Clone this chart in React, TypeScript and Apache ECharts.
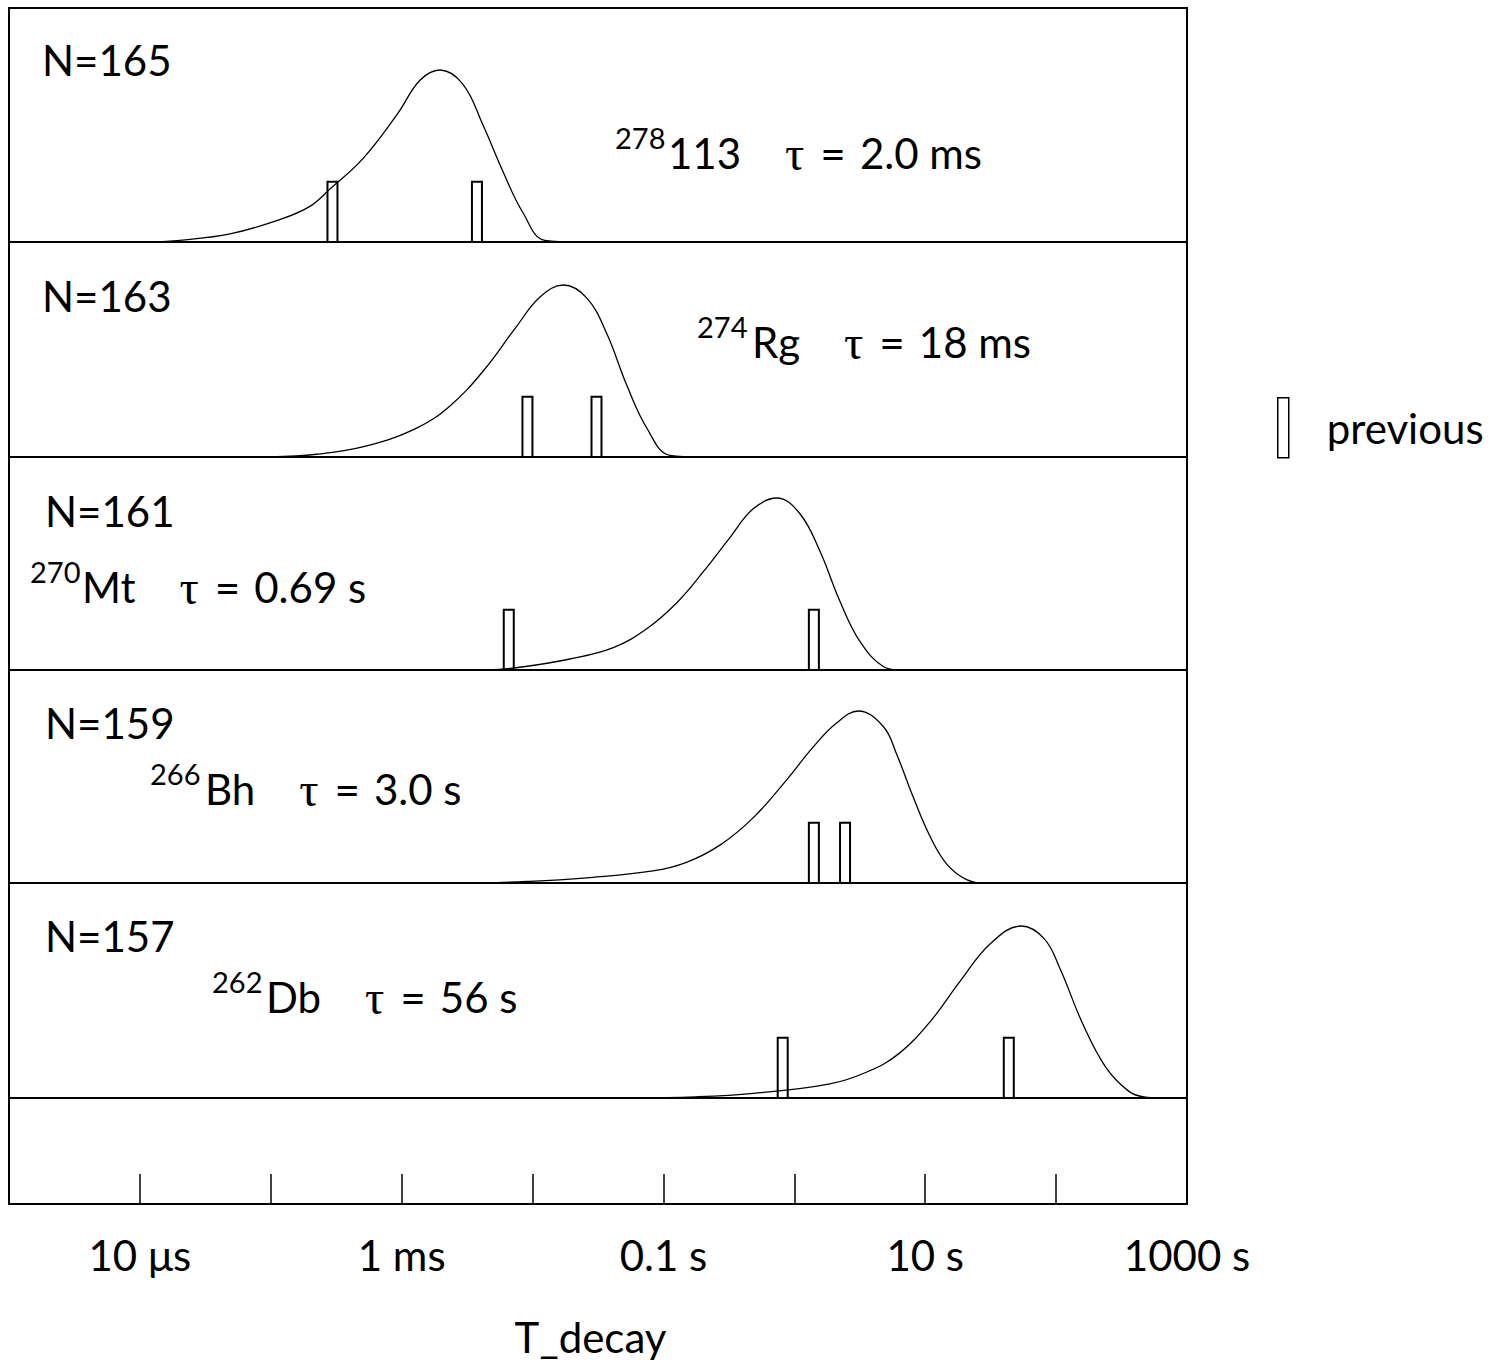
import React, { useEffect, useRef } from "react";
import * as echarts from "echarts";

// ---------- data (x: decay time in seconds, log scale; y: relative density, peak = 1) ----------
const T_MIN = 1e-6;
const T_MAX = 1e3;

const PANEL_N = ["N=165", "N=163", "N=161", "N=159", "N=157"];
const NUCLIDE_MASS = ["278", "274", "270", "266", "262"];
const NUCLIDE_NAME = ["113", "Rg", "Mt", "Bh", "Db"];
const TAU_TEXT = ["2.0 ms", "18 ms", "0.69 s", "3.0 s", "56 s"];

const T_113 = [1.19e-5, 2.02e-5, 4.88e-5, 1.17e-4, 1.99e-4, 2.83e-4, 5.06e-4, 9.2e-4, 1.38e-3, 1.96e-3, 2.94e-3, 4.18e-3, 5.94e-3, 8.45e-3, 1.24e-2, 2.3e-2];
const P_113 = [0, 0.01, 0.047, 0.13, 0.207, 0.308, 0.485, 0.74, 0.94, 1.0, 0.917, 0.68, 0.41, 0.17, 0.01, 0];

const T_RG = [9.86e-5, 2.24e-4, 5.41e-4, 1.3e-3, 2.34e-3, 4.2e-3, 7.56e-3, 1.14e-2, 1.72e-2, 2.59e-2, 3.68e-2, 5.23e-2, 7.44e-2, 0.112, 0.2];
const P_RG = [0, 0.016, 0.065, 0.168, 0.297, 0.5, 0.76, 0.93, 1.0, 0.925, 0.72, 0.42, 0.17, 0.01, 0];

const T_MT = [4.46e-3, 8.02e-3, 1.93e-2, 4.14e-2, 7.45e-2, 0.126, 0.201, 0.322, 0.485, 0.732, 1.1, 1.57, 2.23, 3.17, 4.78, 6.41];
const P_MT = [0, 0.016, 0.064, 0.13, 0.24, 0.39, 0.57, 0.77, 0.937, 1.0, 0.91, 0.69, 0.4, 0.166, 0.02, 0];

const T_BH = [3.38e-4, 2.94e-3, 9.55e-3, 2.59e-2, 8.31e-2, 0.15, 0.27, 0.486, 0.874, 1.39, 2.1, 3.08, 4.78, 6.04, 8.09, 10.9, 14.6, 20.7, 29.4, 107];
const P_BH = [0, 0, 0.01, 0.03, 0.07, 0.12, 0.22, 0.38, 0.6, 0.79, 0.93, 1.0, 0.91, 0.75, 0.5, 0.27, 0.11, 0.02, 0, 0];

const T_DB = [5.42e-2, 0.177, 0.486, 1.87, 3.66, 6.29, 10.8, 18.5, 31.7, 54.3, 81.3, 107, 160, 239, 358, 469, 621];
const P_DB = [0, 0.007, 0.027, 0.082, 0.154, 0.258, 0.44, 0.68, 0.9, 1.0, 0.925, 0.753, 0.43, 0.18, 0.04, 0.006, 0];

// previously observed decay times (one event each)
const PREV_113 = [2.96e-4, 3.76e-3];
const PREV_RG = [9.14e-3, 3.08e-2];
const PREV_MT = [6.58e-3, 1.41];
const PREV_BH = [1.41, 2.44];
const PREV_DB = [0.815, 43.5];
const PREV_EVENT_VALUE = 0.35;

const TICK_EXP = [-5, -3, -1, 1, 3];
const TICK_TEXT = ["10 \u03bcs", "1 ms", "0.1 s", "10 s", "1000 s"];
const AXIS_NAME = "T_decay";
const LEGEND_TEXT = "previous";

const CURVES_T = [T_113, T_RG, T_MT, T_BH, T_DB];
const CURVES_P = [P_113, P_RG, P_MT, P_BH, P_DB];
const PREVS = [PREV_113, PREV_RG, PREV_MT, PREV_BH, PREV_DB];

// ---------- layout ----------
const W = 1502;
const H = 1363;
const BOX_LEFT = 9;
const BOX_WIDTH = 1178;
const PANEL_TOP = [8, 242, 457, 670, 883];
const PANEL_H = [234, 215, 213, 213, 215];
const AXIS_GRID_TOP = 1098;
const AXIS_GRID_H = 106;
const PX_PER_UNIT = 172;
const FONT = "Lato, 'Open Sans', sans-serif";
const SERIF = "'Liberation Serif', 'DejaVu Serif', serif";

const N_X = [42, 42, 45, 45, 45];
const N_CY = [60, 296, 511, 723, 936];
const SUP_X = [615, 697, 30, 150, 212];
const MAIN_X = [668, 752, 82, 205, 266];
const MAIN_CY = [153, 342, 587, 789, 997];

export default function App() {
  const ref = useRef<HTMLDivElement>(null);

  useEffect(() => {
    if (!ref.current) return;
    const chart = echarts.init(ref.current, null, { renderer: "svg" });

    const grids: any[] = [];
    const xAxes: any[] = [];
    const yAxes: any[] = [];
    const series: any[] = [];

    for (let i = 0; i < 5; i++) {
      grids.push({
        left: BOX_LEFT,
        top: PANEL_TOP[i],
        width: BOX_WIDTH,
        height: PANEL_H[i],
        show: true,
        borderColor: "#000",
        borderWidth: 2,
        backgroundColor: "transparent",
      });
      xAxes.push({ type: "log", logBase: 10, gridIndex: i, min: T_MIN, max: T_MAX, show: false });
      yAxes.push({ type: "value", gridIndex: i, min: 0, max: PANEL_H[i] / PX_PER_UNIT, show: false });
      series.push({
        type: "line",
        xAxisIndex: i,
        yAxisIndex: i,
        data: CURVES_T[i].map((t, k) => [t, CURVES_P[i][k]]),
        smooth: 0.4,
        showSymbol: false,
        symbol: "none",
        lineStyle: { color: "#000", width: 1.3 },
        silent: true,
        z: 2,
      });
      series.push({
        type: "custom",
        name: LEGEND_TEXT,
        xAxisIndex: i,
        yAxisIndex: i,
        data: PREVS[i].map((t) => [t, PREV_EVENT_VALUE]),
        renderItem: (params: any, api: any) => {
          const t = api.value(0);
          const v = api.value(1);
          const top = api.coord([t, v]);
          const bottom = api.coord([t, 0]);
          return {
            type: "rect",
            shape: { x: top[0] - 5, y: top[1], width: 10, height: bottom[1] - top[1] },
            style: { fill: "none", stroke: "#000", lineWidth: 2 },
          };
        },
        itemStyle: { color: "transparent", borderColor: "#000", borderWidth: 1.5 },
        silent: true,
        z: 3,
      });
    }

    grids.push({
      left: BOX_LEFT,
      top: AXIS_GRID_TOP,
      width: BOX_WIDTH,
      height: AXIS_GRID_H,
      show: true,
      borderColor: "#000",
      borderWidth: 2,
    });
    xAxes.push({
      type: "log",
      logBase: 10,
      gridIndex: 5,
      min: T_MIN,
      max: T_MAX,
      splitNumber: 9,
      axisLine: { show: true, lineStyle: { color: "#000", width: 2 } },
      axisTick: { show: true, inside: true, length: 30, lineStyle: { color: "#000", width: 1.5 } },
      splitLine: { show: false },
      axisLabel: {
        show: true,
        showMinLabel: true,
        showMaxLabel: true,
        margin: 30,
        color: "#000",
        fontFamily: FONT,
        fontSize: 42,
        formatter: (value: number) => {
          const e = Math.round(Math.log10(value));
          const idx = TICK_EXP.indexOf(e);
          return idx >= 0 ? TICK_TEXT[idx] : "";
        },
      },
      name: AXIS_NAME,
      nameLocation: "middle",
      nameGap: 112,
      nameTextStyle: { color: "#000", fontFamily: FONT, fontSize: 42, padding: [0, 15, 0, 0] },
    });
    yAxes.push({ type: "value", gridIndex: 5, min: 0, max: 1, show: false });

    const graphics: any[] = [];
    for (let i = 0; i < 5; i++) {
      graphics.push({
        type: "text",
        x: N_X[i],
        y: N_CY[i],
        style: { text: PANEL_N[i], fill: "#000", fontFamily: FONT, fontSize: 42, verticalAlign: "middle" },
      });
      graphics.push({
        type: "text",
        x: SUP_X[i],
        y: MAIN_CY[i] - 16,
        style: { text: NUCLIDE_MASS[i], fill: "#000", fontFamily: FONT, fontSize: 29, verticalAlign: "middle" },
      });
      graphics.push({
        type: "text",
        x: MAIN_X[i],
        y: MAIN_CY[i],
        style: {
          text: `{m|${NUCLIDE_NAME[i]}}{t|\u03c4}{e|=}{m|${TAU_TEXT[i]}}`,
          verticalAlign: "middle",
          fill: "#000",
          rich: {
            m: { fontFamily: FONT, fontSize: 42, fill: "#000", lineHeight: 48 },
            t: { fontFamily: SERIF, fontSize: 48, fill: "#000", lineHeight: 48, padding: [0, 0, 0, 44] },
            e: { fontFamily: FONT, fontSize: 44, fill: "#000", lineHeight: 48, padding: [0, 14, 0, 16] },
          },
        },
      });
    }

    chart.setOption({
      animation: false,
      backgroundColor: "#fff",
      grid: grids,
      xAxis: xAxes,
      yAxis: yAxes,
      series,
      legend: {
        data: [LEGEND_TEXT],
        left: 1277,
        top: 397,
        padding: 0,
        icon: "rect",
        itemWidth: 11,
        itemHeight: 60,
        selectedMode: false,
        itemStyle: { color: "transparent", borderColor: "#000", borderWidth: 1.5 },
        textStyle: { color: "#000", fontFamily: FONT, fontSize: 42, padding: [0, 0, 0, 33] },
      },
      graphic: graphics,
    });

    return () => chart.dispose();
  }, []);

  return (
    <div
      ref={ref}
      style={{ position: "fixed", left: 0, top: 0, width: W, height: H, background: "#fff" }}
    />
  );
}
